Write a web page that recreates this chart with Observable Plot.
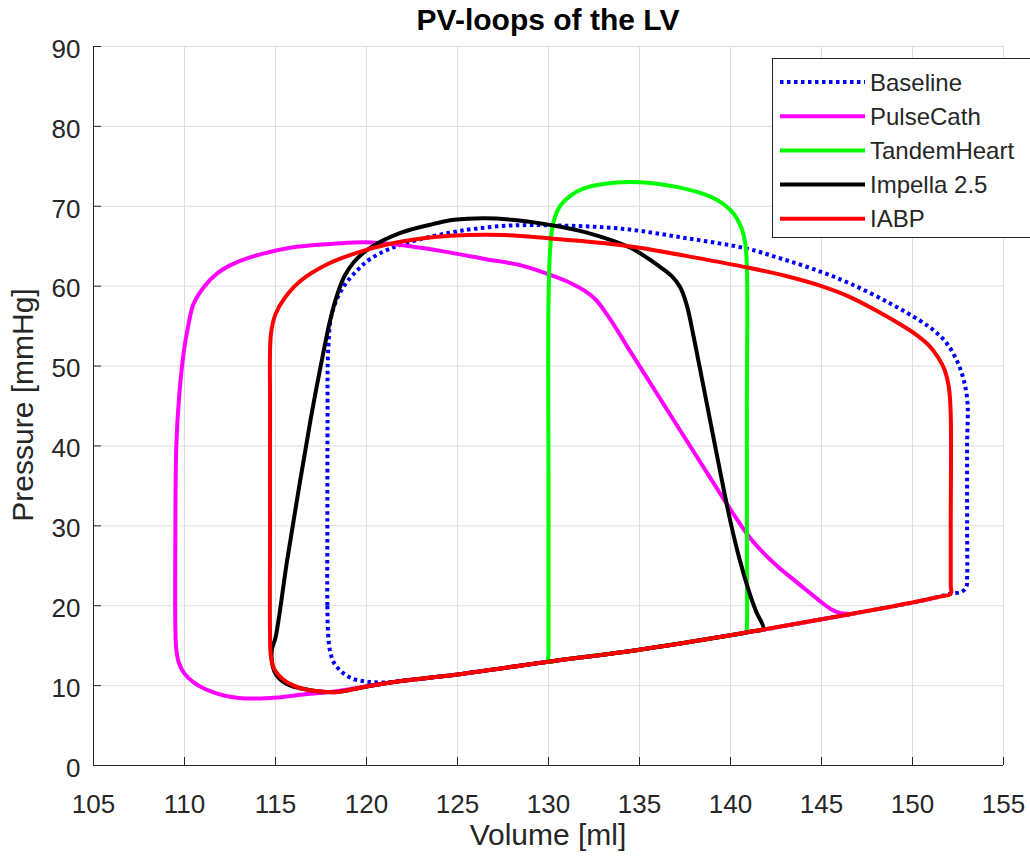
<!DOCTYPE html>
<html>
<head>
<meta charset="utf-8">
<script src="https://cdn.jsdelivr.net/npm/d3@7"></script>
<script src="https://cdn.jsdelivr.net/npm/@observablehq/plot@0.6"></script>
<style>
  html, body { margin: 0; padding: 0; background: #fff; }
  #wrap { position: relative; width: 1030px; height: 857px; overflow: hidden;
          font-family: "Liberation Sans", Arial, Helvetica, sans-serif; color: #262626; }
  #wrap svg { display: block; }
  .lbl { position: absolute; white-space: nowrap; line-height: 1; }
</style>
</head>
<body>
<div id="wrap"></div>
<script>
// ---------- tick values ----------
const xTicks = [105, 110, 115, 120, 125, 130, 135, 140, 145, 150, 155];
const yTicks = [0, 10, 20, 30, 40, 50, 60, 70, 80, 90];

// ---------- series ----------
const seriesNames = ["Baseline", "PulseCath", "TandemHeart", "Impella 2.5", "IABP"];
const seriesColors = ["#0000ff", "#ff00ff", "#00ff00", "#000000", "#ff0000"];

// Baseline (volume ml / pressure mmHg), loop traced counter-clockwise
const baselineVol  = [117.85,117.85,117.9,118.0,118.2,118.6,119.2,120.0,121.0,122.0,125.0,130.0,135.0,140.0,145.0,150.0,151.4,152.1,152.7,152.95,153.0,153.0,153.0,153.0,152.6,151.9,151.2,150.4,148.8,146.6,144.6,142.7,140.9,137.6,134.0,130.5,128.0,126.0,124.6,123.0,121.3,120.2,119.5,118.7,118.1,117.9,117.86];
const baselinePres = [30,20,16.2,14.3,12.9,11.8,10.9,10.5,10.4,10.6,11.4,13.0,14.5,16.3,18.3,20.4,21.1,21.5,21.75,22.3,23.5,30,40,46.0,49.8,52.8,54.4,55.7,57.8,60.3,62.1,63.5,64.7,66.0,67.2,67.6,67.6,67.2,66.7,65.9,64.7,63.4,62.0,59.8,56.6,52.3,43.0];

// PulseCath
const pulseVol  = [109.5,109.5,109.55,109.7,110.0,110.5,111.1,111.8,112.5,113.3,114.2,115.1,116.5,118.0,120.0,122.0,125.0,130.0,135.0,140.0,145.0,146.0,146.6,146.0,145.5,144.9,144.2,143.5,142.7,141.9,141.1,140.3,139.5,138.5,137.5,136.5,135.5,134.5,133.8,133.2,132.6,132.0,131.2,130.1,128.5,126.5,124.6,122.4,120.0,118.2,115.8,113.6,112.5,111.8,111.1,110.5,110.2,109.95,109.7,109.55];
const pulsePres = [30,17,14.5,12.8,11.5,10.4,9.6,9.0,8.6,8.4,8.4,8.5,8.9,9.2,9.9,10.6,11.4,13.0,14.5,16.3,18.3,18.7,18.95,19.1,19.6,20.6,21.9,23.2,24.7,26.4,28.4,31.0,33.8,37.4,41.0,44.6,48.2,51.8,54.4,56.5,58.3,59.4,60.4,61.4,62.6,63.4,64.2,65.0,65.5,65.3,64.8,63.6,62.6,61.6,60.0,57.8,55.0,51.6,46,40];

// TandemHeart
const tandemVol  = [130.0,130.6,135.0,140.0,140.5,140.85,140.9,140.9,140.9,140.9,140.8,140.6,140.2,139.6,138.9,138.0,137.1,135.0,133.0,131.9,131.2,130.6,130.25,130.1,130.0,130.0,130.0];
const tandemPres = [13.0,13.2,14.5,16.3,16.5,16.7,17.6,25,45,62.5,65.5,67.3,69.0,70.3,71.2,71.9,72.4,73.0,72.8,72.2,71.3,69.9,67.8,65.0,58,35,14.0];

// Impella 2.5
const impellaVol  = [114.8,114.85,115.05,115.4,115.9,116.5,117.3,118.4,120.0,122.0,125.0,130.0,135.0,140.0,141.2,141.8,141.4,141.0,140.5,140.0,139.5,139.0,138.5,138.0,137.6,137.25,136.8,136.2,134.5,132.1,130.0,128.5,126.5,124.8,123.7,121.9,120.2,119.3,118.8,118.4,118.0,117.5,116.92,116.3,115.64,115.0];
const impellaPres = [14.5,12.4,11.3,10.5,9.95,9.6,9.3,9.2,9.9,10.6,11.4,13.0,14.5,16.3,16.8,17.1,19.3,21.9,25.8,30.5,36.0,41.8,47.6,53.4,57.6,59.8,61.2,62.3,64.8,66.7,67.7,68.2,68.5,68.3,67.8,66.7,64.8,63.0,61.3,59.0,55.7,50.2,43.2,34.9,25.7,16.0];

// IABP
const iabpVol  = [114.7,114.7,114.75,114.95,115.4,116.0,116.7,117.5,118.4,120.0,122.0,125.0,130.0,135.0,140.0,145.0,150.0,151.4,152.1,152.1,152.1,152.1,152.0,151.75,151.4,150.9,150.1,149.2,148.2,146.6,145.0,143.0,141.0,138.0,135.0,133.0,130.0,127.5,124.6,122.8,121.3,119.5,117.9,116.4,115.5,115.0,114.75,114.7];
const iabpPres = [30,16.5,13.6,12.0,10.8,10.0,9.5,9.25,9.2,9.9,10.6,11.4,13.0,14.5,16.3,18.3,20.4,21.1,21.5,22.6,30,44,47.3,49.6,51.1,52.6,54.1,55.4,56.7,58.6,60.0,61.3,62.3,63.6,64.8,65.4,66.0,66.4,66.3,65.9,65.3,64.2,62.8,60.7,58.5,56.5,54.0,45];

// ---------- build ----------
const seriesData = [
  [baselineVol, baselinePres],
  [pulseVol, pulsePres],
  [tandemVol, tandemPres],
  [impellaVol, impellaPres],
  [iabpVol, iabpPres]
];
const dashes = ["3.5,3.5", null, null, null, null];
const lineW = 4;

const rows = seriesData.map(([vs, ps], k) => vs.map((v, i) => ({series: seriesNames[k], v, p: ps[i]})));

const gridColor = "#dedede";
const axisColor = "#262626";
const tickLenY = 90 * 8 / 719;   // ~8px inward tick
const tickLenX = 50 * 8 / 910;

const chart = Plot.plot({
  width: 1030,
  height: 857,
  marginLeft: 93,
  marginRight: 27,
  marginTop: 46,
  marginBottom: 92,
  x: {domain: [105, 155], label: null},
  y: {domain: [0, 90], label: null},
  style: {background: "white", color: axisColor, fontFamily: '"Liberation Sans", Arial, Helvetica, sans-serif'},
  marks: [
    Plot.gridX(xTicks, {stroke: gridColor, strokeOpacity: 1, strokeWidth: 1}),
    Plot.gridY(yTicks, {stroke: gridColor, strokeOpacity: 1, strokeWidth: 1}),
    ...rows.map((r, k) => Plot.line(r, {
      x: "v", y: "p",
      stroke: seriesColors[k],
      strokeWidth: lineW,
      strokeDasharray: dashes[k] ?? undefined,
      strokeLinecap: dashes[k] ? "butt" : "round",
      strokeLinejoin: "round",
      curve: "catmull-rom-closed"
    })),
    Plot.ruleX([xTicks[0]], {stroke: axisColor, strokeWidth: 1}),
    Plot.ruleY([yTicks[0]], {stroke: axisColor, strokeWidth: 1}),
    Plot.ruleX(xTicks, {y1: 0, y2: tickLenY, stroke: axisColor, strokeWidth: 1}),
    Plot.ruleY(yTicks, {x1: 105, x2: 105 + tickLenX, stroke: axisColor, strokeWidth: 1}),
    Plot.axisX(xTicks, {tickSize: 0, tickPadding: 29, fontSize: 26, label: null, fill: axisColor}),
    Plot.axisY(yTicks, {tickSize: 0, tickPadding: 13, fontSize: 26, label: null, fill: axisColor, dy: 3})
  ]
});

const wrap = document.getElementById("wrap");
wrap.appendChild(chart);

// ---------- title & axis labels ----------
function addLabel(text, css) {
  const d = document.createElement("div");
  d.className = "lbl";
  d.textContent = text;
  Object.assign(d.style, css);
  wrap.appendChild(d);
  return d;
}
addLabel("PV-loops of the LV", {left: "248px", width: "600px", textAlign: "center", top: "5px", fontSize: "30px", fontWeight: "bold", color: "#000"});
addLabel("Volume [ml]", {left: "248px", width: "600px", textAlign: "center", top: "820px", fontSize: "30px", color: axisColor});
addLabel("Pressure [mmHg]", {left: "23px", top: "405px", fontSize: "30px", color: axisColor, transform: "translate(-50%,-50%) rotate(-90deg)"});

// ---------- legend ----------
const leg = d3.select(wrap).append("svg")
  .attr("width", 262).attr("height", 181)
  .style("position", "absolute").style("left", "772px").style("top", "58px");
leg.append("rect").attr("x", 0.5).attr("y", 0.5).attr("width", 261).attr("height", 179)
  .attr("fill", "white").attr("stroke", axisColor).attr("stroke-width", 1);
seriesNames.forEach((name, k) => {
  const cy = 24 + k * 34.2;
  leg.append("line").attr("x1", 8).attr("x2", 93).attr("y1", cy).attr("y2", cy)
    .attr("stroke", seriesColors[k]).attr("stroke-width", lineW)
    .attr("stroke-dasharray", dashes[k]);
  leg.append("text").attr("x", 98).attr("y", cy).attr("dy", "0.36em")
    .attr("font-size", 24).attr("fill", axisColor)
    .style("font-family", '"Liberation Sans", Arial, Helvetica, sans-serif')
    .text(name);
});
</script>
</body>
</html>
